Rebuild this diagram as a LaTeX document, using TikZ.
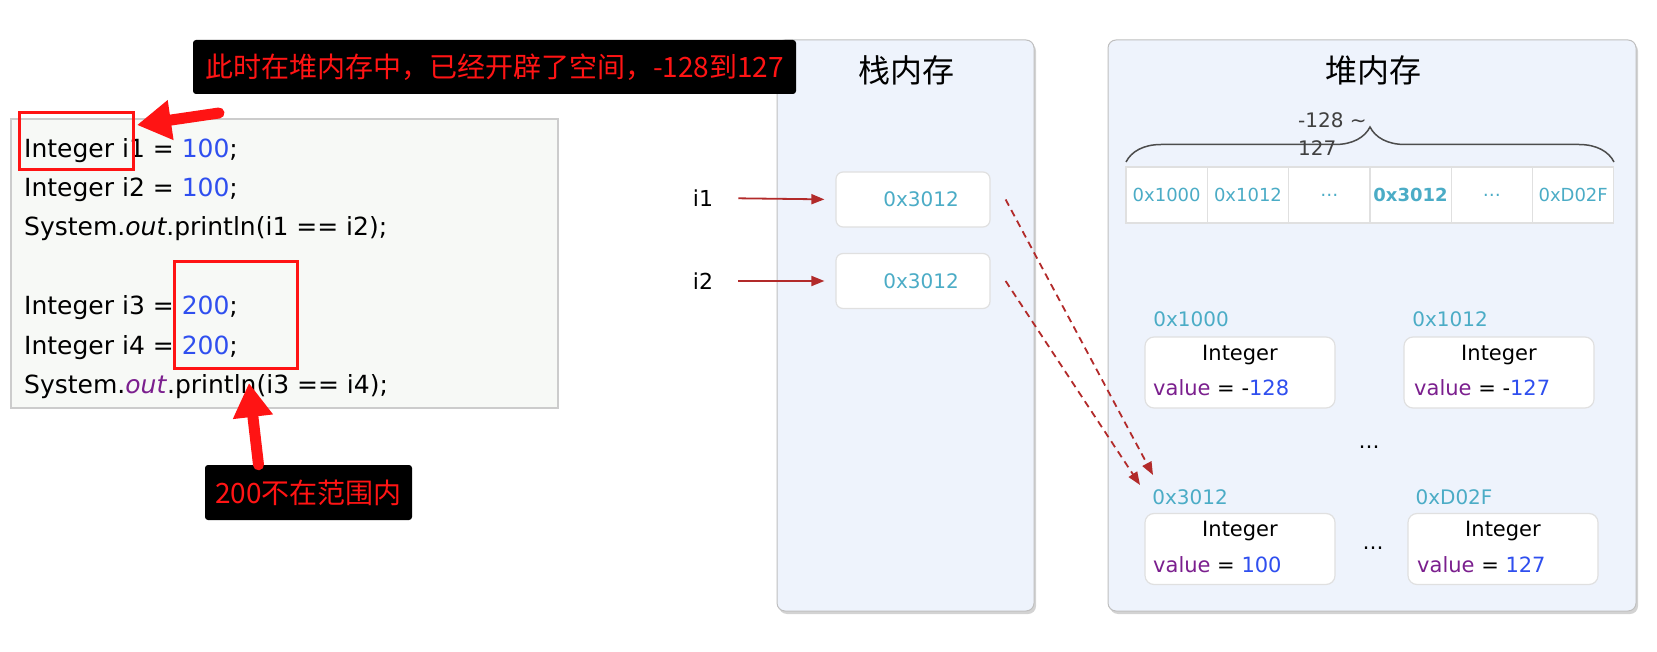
\documentclass[tikz,border=0pt]{standalone}
\usepackage{fontspec}
\setmainfont{DejaVu Sans}
\newfontfamily\cjk{Noto Sans CJK SC}
\usetikzlibrary{arrows.meta,decorations.pathreplacing,shadows}

\definecolor{addrcyan}{HTML}{4BACC6}
\definecolor{numblue}{HTML}{2F4FEF}
\definecolor{kwpurple}{HTML}{7B1F8E}
\definecolor{ptrred}{HTML}{B22A2A}
\definecolor{panelfill}{HTML}{EEF3FC}
\definecolor{codefill}{HTML}{F7F9F6}
\definecolor{markred}{HTML}{FF1414}

\tikzset{
    mem panel/.style={draw=black!25, fill=panelfill, rounded corners=8pt,
                      line width=1pt, inner sep=0pt,
                      drop shadow={shadow xshift=2pt, shadow yshift=-3pt,
                                   opacity=.35}},
    mem title/.style={font=\cjk\fontsize{32}{36}\selectfont},
    stack cell/.style={draw=black!12, fill=white, rounded corners=7pt,
                       line width=1.2pt, minimum width=154pt,
                       minimum height=55pt, inner sep=0pt},
    heap cell/.style={draw=black!12, fill=white, line width=1.2pt,
                      minimum width=81.3pt, minimum height=56pt, inner sep=0pt},
    obj box/.style={draw=black!12, fill=white, rounded corners=9pt,
                    line width=1.2pt, minimum width=190pt,
                    minimum height=71pt, inner sep=0pt},
    addr/.style={text=addrcyan, inner sep=0pt, font=\fontsize{19}{22}\selectfont},
    code line/.style={anchor=base west, inner sep=0pt,
                      font=\fontsize{25}{30}\selectfont},
    obj text/.style={inner sep=0pt, font=\fontsize{21}{24}\selectfont},
    note box/.style={fill=black, rounded corners=3pt, text=markred,
                     font=\cjk\fontsize{28}{30}\selectfont, inner sep=0pt},
    mark box/.style={draw=markred, line width=3pt, inner sep=0pt},
    mark arrow/.style={markred, line width=11pt, line cap=round,
                       -{Triangle[length=34pt,width=38pt]}},
    ptr/.style={ptrred, line width=1.8pt, -{Triangle[length=13pt,width=10pt]}},
    ptr dash/.style={ptr, dash pattern=on 7pt off 5pt},
}

\begin{document}
\begin{tikzpicture}[x=1pt, y=-1pt]
    \useasboundingbox (0,0) rectangle (1657,652);
    % Panels
    \node[mem panel, minimum width=257pt, minimum height=571pt]
          (stack) at (905.5,325.5) {};
    \node[mem panel, minimum width=528pt, minimum height=571pt]
          (heap) at (1372,325.5) {};
    \node[mem title] (stacktitle) at (906,70) {栈内存};
    \node[mem title] (heaptitle) at (1373,70) {堆内存};

    % Code listing
    \node[draw=black!20, fill=codefill, line width=1.2pt,
          minimum width=547pt, minimum height=289pt]
          (code) at (284.5,263.5) {};
    \node[code line] (c1) at (24,158) {Integer i1 = \textcolor{numblue}{100};};
    \node[code line] (c2) at (24,197) {Integer i2 = \textcolor{numblue}{100};};
    \node[code line] (c3) at (24,236) {System.\textit{out}.println(i1 == i2);};
    \node[code line] (c5) at (24,315) {Integer i3 = \textcolor{numblue}{200};};
    \node[code line] (c6) at (24,354) {Integer i4 = \textcolor{numblue}{200};};
    \node[code line] (c7) at (24,393)
          {System.\textcolor{kwpurple}{\textit{out}}.println(i3 == i4);};

    % Stack variables
    \node[obj text, font=\fontsize{22}{24}\selectfont] (i1) at (703,198) {i1};
    \node[obj text, font=\fontsize{22}{24}\selectfont] (i2) at (703,281) {i2};
    \node[stack cell] (s1) at (913,199.5) {};
    \node[stack cell] (s2) at (913,281) {};
    \node[addr, font=\fontsize{20}{22}\selectfont] (s1v) at (921,199) {0x3012};
    \node[addr, font=\fontsize{20}{22}\selectfont] (s2v) at (921,281) {0x3012};
    \draw[ptr, shorten <=25pt, shorten >=11pt] (i1.east) -- (s1.west);
    \draw[ptr, shorten <=25pt, shorten >=11pt] (i2.east) -- (s2.west);

    % Cache range in heap
    \draw[decorate, decoration={brace, amplitude=35pt}, black!70,
          line width=1.5pt] (1126,162) -- (1614,162);
    \node[anchor=west, align=left, inner sep=0pt, text=black!75,
          font=\fontsize{20}{28}\selectfont] (range) at (1298,134)
          {-128 \textasciitilde\\127};
    \foreach \lbl [count=\k from 0] in
        {0x1000, 0x1012, \dots, \textbf{0x3012}, \dots, 0xD02F}
        \node[heap cell, text=addrcyan, font=\fontsize{18}{20}\selectfont]
              (h\k) at ({1166.65+81.3*\k},195) {\lbl};

    % Integer objects
    \node[addr, font=\fontsize{20}{22}\selectfont] (a1) at (1191,319) {0x1000};
    \node[addr, font=\fontsize{20}{22}\selectfont] (a2) at (1450,319) {0x1012};
    \node[addr, font=\fontsize{20}{22}\selectfont] (a3) at (1190,497) {0x3012};
    \node[addr, font=\fontsize{20}{22}\selectfont] (a4) at (1454,497) {0xD02F};
    \node[obj box] (o1) at (1240,372.5) {};
    \node[obj box] (o2) at (1499,372.5) {};
    \node[obj box] (o3) at (1240,549) {};
    \node[obj box] (o4) at (1503,549) {};
    \node[obj text] (t1) at (1240,355) {Integer};
    \node[obj text] (t2) at (1499,355) {Integer};
    \node[obj text] (t3) at (1240,531) {Integer};
    \node[obj text] (t4) at (1503,531) {Integer};
    \node[obj text, anchor=west] (v1) at (1153,388)
          {\textcolor{kwpurple}{value} = -\textcolor{numblue}{128}};
    \node[obj text, anchor=west] (v2) at (1414,388)
          {\textcolor{kwpurple}{value} = -\textcolor{numblue}{127}};
    \node[obj text, anchor=west] (v3) at (1153,565)
          {\textcolor{kwpurple}{value} = \textcolor{numblue}{100}};
    \node[obj text, anchor=west] (v4) at (1417,565)
          {\textcolor{kwpurple}{value} = \textcolor{numblue}{127}};
    \node[obj text] (gap1) at (1369,447) {\dots};
    \node[obj text] (gap2) at (1373,548) {\dots};

    % References into the cache
    \coordinate (hit1) at (1153,475);
    \coordinate (hit2) at (1140,485);
    \draw[ptr dash] ([xshift=15pt]s1.east) -- (hit1);
    \draw[ptr dash] ([xshift=15pt]s2.east) -- (hit2);

    % Annotations
    \node[note box, minimum width=603pt, minimum height=54pt] (note1)
          at (494.5,67) {此时在堆内存中，已经开辟了空间，-128到127};
    \node[note box, minimum width=207pt, minimum height=55pt] (note2)
          at (308.5,492.5) {200不在范围内};
    \node[mark box, minimum width=114pt, minimum height=57pt] (r1)
          at (76,141.5) {};
    \node[mark box, minimum width=123pt, minimum height=106pt] (r2)
          at (235.5,315) {};
    \coordinate (m1tail) at (219,113);
    \coordinate (m1tip) at (137,125);
    \coordinate (m2tip) at (249,383);
    \draw[mark arrow] (m1tail) -- (m1tip);
    \draw[mark arrow] ([xshift=-50pt]note2.north) -- (m2tip);
\end{tikzpicture}
\end{document}
